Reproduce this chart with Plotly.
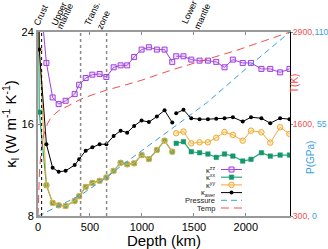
import plotly.graph_objects as go

# ---------------- data ----------------
depth = [3, 12, 81, 141, 199, 266, 353, 396, 459, 523, 593, 658, 728, 795, 858, 925,
         997, 1067, 1144, 1218, 1292, 1311, 1330, 1400, 1475, 1555, 1635, 1715, 1795,
         1875, 1970, 2050, 2150, 2235, 2330, 2420]
k_zz = [40, 28, 21.31, 18.31, 17.73, 18.02, 18.6, 19.41, 20.0, 20.29, 20.35, 20.09, 20.93,
        21.1, 21.1, 21.83, 22.47, 22.67, 22.47, 22.47, 21.4, None, 21.89, 21.89, 21.6,
        21.51, 21.51, 21.4, 20.93, 21.6, 21.31, 21.31, 20.79, 20.79, 20.49, 20.79]
k_xx = [30, 17.03, 10.68, 9.14, 8.93, 8.87, 9.31, 9.72, 10.53, 10.88, 11.06, 11.35, 11.93,
        12.63, 12.49, 12.58, 13.3, 12.95, 13.74, 14.55, 13.59, None, 14.32, 14.46, 13.59,
        13.5, 13.39, 13.1, 13.39, 13.21, 12.78, 12.93, 13.5, 13.21, 13.3, 13.3]
k_yy = [30, 22.4, 10.68, 9.14, 8.93, 8.87, 9.31, 9.72, 10.53, 10.88, 11.06, 11.35, 11.93,
        12.63, 12.49, 12.58, 13.3, 12.95, 13.74, 14.55, 13.59, None, 15.2, 15.34, 14.32,
        14.41, 14.41, 14.8, 15.3, 15.05, 14.55, 15.42, 15.28, 14.38, 15.72, 15.14]
k_aver = [33, 22.47, 14.24, 12.19, 11.84, 11.93, 12.43, 12.93, 13.68, 13.97, 14.24, 14.24,
          14.96, 15.42, 15.25, 15.83, 16.3, 16.17, 16.65, 17.19, 16.12, None, 16.94, 17.23,
          16.49, 16.42, 16.42, 16.45, 16.5, 16.59, 16.21, 16.59, 16.5, 16.07, 16.5, 16.42]

temp_depth = [0, 5, 15, 30, 55, 90, 120, 160, 210, 290, 410, 520, 660, 815, 1000, 1300,
              1630, 1910, 2425]
temp_K = [300, 620, 950, 1220, 1445, 1600, 1680, 1740, 1800, 1855, 1950, 2010, 2080, 2140,
          2220, 2370, 2515, 2640, 2900]

pres_depth = [0, 35, 410, 660, 800, 1000, 1370, 1630, 2000, 2425]
pres_GPa = [0, 1, 12.5, 23, 30, 39, 56, 68, 88, 110]

crust_depth = 35
mantle_bounds = [410, 660]
x_ticks = [0, 500, 1000, 1500, 2000]
k_ticks = [8, 16, 24]
T_ticks = [300, 1600, 2900]
P_ticks = [0, 55, 110]

zone_words = ["Crust", "Upper", "mantle", "Trans.", "zone", "Lower", "mantle"]

legend_names = ["κ<sup>zz</sup>", "κ<sup>xx</sup>", "κ<sup>yy</sup>", "κ<sub>aver</sub>",
                "Pressure", "Temp"]

# ---------------- layout / styles ----------------
zone_pos_px = [(41, 15), (59, 14), (65.5, 16.5), (92, 14), (103, 19.5), (189.5, 12), (202, 17)]

C_ZZ = "#a040e0"
C_XX = "#2aa886"
C_XXM = "#14986a"
C_YY = "#f0aa30"
C_T = "#f05050"
C_P = "#3a9ee0"
FONT = "Liberation Sans, Arial, sans-serif"

fig = go.Figure()

fig.add_trace(go.Scatter(x=temp_depth, y=temp_K, yaxis="y2", mode="lines",
                         line=dict(color=C_T, width=1, dash="8px,5px"), showlegend=False))
fig.add_trace(go.Scatter(x=pres_depth, y=pres_GPa, yaxis="y3", mode="lines",
                         line=dict(color=C_P, width=1, dash="6px,4px"), showlegend=False))

st_zz = dict(mode="lines+markers", line=dict(color=C_ZZ, width=1),
             marker=dict(symbol="square", size=5, color="rgba(200,150,250,0.3)",
                         line=dict(color=C_ZZ, width=1)))
st_xx = dict(mode="lines+markers", line=dict(color=C_XX, width=1.2),
             marker=dict(symbol="square", size=4.5, color=C_XXM, line=dict(color=C_XXM, width=0.5)))
st_yy = dict(mode="lines+markers", line=dict(color=C_YY, width=1),
             marker=dict(symbol="circle", size=5.5, color="rgba(245,205,110,0.35)",
                         line=dict(color=C_YY, width=1)))
st_av = dict(mode="lines+markers", line=dict(color="black", width=1),
             marker=dict(symbol="circle", size=4, color="black"))

fig.add_trace(go.Scatter(x=depth, y=k_zz, showlegend=False, **st_zz))
fig.add_trace(go.Scatter(x=depth, y=k_xx, showlegend=False, **st_xx))
fig.add_trace(go.Scatter(x=depth, y=k_yy, showlegend=False, **st_yy))
fig.add_trace(go.Scatter(x=depth, y=k_aver, showlegend=False, **st_av))

# ---------------- manual legend (text left, symbol right) ----------------
leg_top_px, leg_step_px = 169.5, 7.7
plot_l, plot_t, plot_w, plot_h = 38, 32, 252, 184
leg_styles = [st_zz, st_xx, st_yy, st_av,
              dict(mode="lines", line=dict(color=C_P, width=1, dash="6px,4px")),
              dict(mode="lines", line=dict(color=C_T, width=1, dash="8px,5px"))]


def px_to_paper(px, py):
    return (px - plot_l) / plot_w, (plot_t + plot_h - py) / plot_h


annotations = []
for i, (nm, stl) in enumerate(zip(legend_names, leg_styles)):
    _, fy = px_to_paper(0, leg_top_px + i * leg_step_px)
    x0, _ = px_to_paper(221, 0)
    x1, _ = px_to_paper(242, 0)
    xm = (x0 + x1) / 2
    fig.add_trace(go.Scatter(x=[x0, x1], y=[fy, fy], xaxis="x2", yaxis="y4", mode="lines",
                             line=stl["line"], showlegend=False, hoverinfo="skip"))
    if "marker" in stl:
        fig.add_trace(go.Scatter(x=[xm], y=[fy], xaxis="x2", yaxis="y4", mode="markers",
                                 marker=stl["marker"], showlegend=False, hoverinfo="skip"))
    tx, _ = px_to_paper(217, 0)
    annotations.append(dict(x=tx, y=fy, xref="paper", yref="paper",
                            text=nm, showarrow=False, xanchor="right", yanchor="middle",
                            font=dict(size=7.5, family=FONT, color="#222")))

# ---------------- zone labels ----------------
for w, (px, py) in zip(zone_words, zone_pos_px):
    ax, ay = px_to_paper(px, py)
    annotations.append(dict(x=ax, y=ay, xref="paper", yref="paper",
                            text=w, showarrow=False, textangle=-65,
                            xanchor="center", yanchor="middle",
                            font=dict(size=9, family=FONT, color="black")))

tx, ty = px_to_paper(302, 72)
annotations.append(dict(x=tx, y=ty, xref="paper", yref="paper", text="T(K)", showarrow=False,
                        textangle=-90, font=dict(size=10, family=FONT, color=C_T)))
tx, ty = px_to_paper(318, 176)
annotations.append(dict(x=tx, y=ty, xref="paper", yref="paper", text="P(GPa)", showarrow=False,
                        textangle=-90, font=dict(size=10, family=FONT, color=C_P)))

shapes = [dict(type="line", xref="x", yref="paper", x0=crust_depth, x1=crust_depth, y0=0, y1=1,
               line=dict(color="black", width=1, dash="dot"))]
for b in mantle_bounds:
    shapes.append(dict(type="line", xref="x", yref="paper", x0=b, x1=b, y0=0, y1=1,
                       line=dict(color="#888", width=1.5, dash="dot")))

right_text = [f"{t}, <span style='color:{C_P}'>{p}</span>" if t != 2900 else
              f"{t},<span style='color:{C_P}'>{p}</span>" for t, p in zip(T_ticks, P_ticks)]

fig.update_layout(
    width=328, height=249,
    margin=dict(l=plot_l, r=328 - plot_l - plot_w, t=plot_t, b=249 - plot_t - plot_h),
    paper_bgcolor="white", plot_bgcolor="white",
    font=dict(family=FONT, size=11, color="black"),
    xaxis=dict(range=[0, 2425], tickvals=x_ticks, ticks="inside", ticklen=3,
               tickcolor="#888", showline=True, linecolor="#999", linewidth=2,
               mirror="ticks", showgrid=False, zeroline=False, automargin=False,
               title=dict(text="Depth (km)", font=dict(size=15), standoff=4),
               tickfont=dict(size=11)),
    yaxis=dict(range=[8, 24], tickvals=k_ticks, ticks="inside", ticklen=3, tickcolor="#888",
               showline=True, linecolor="#999", linewidth=2, showgrid=False, zeroline=False,
               automargin=False,
               title=dict(text="κ<sub>l</sub> (W m<sup>-1</sup> K<sup>-1</sup>)",
                          font=dict(size=15), standoff=6),
               tickfont=dict(size=11)),
    yaxis2=dict(overlaying="y", side="right", range=[300, 2900], tickvals=T_ticks,
                ticktext=right_text, tickfont=dict(size=8.7, color=C_T), ticks="outside",
                ticklen=2, tickcolor="#888", showline=True, linecolor="black", linewidth=1,
                ticklabelstandoff=-2, automargin=False,
                showgrid=False, zeroline=False),
    yaxis3=dict(overlaying="y", range=[0, 110], visible=False),
    xaxis2=dict(overlaying="x", range=[0, 1], visible=False),
    yaxis4=dict(overlaying="y", range=[0, 1], visible=False),
    annotations=annotations, shapes=shapes, showlegend=False,
)

# remove the browser's default 8px page margin and hide the mode bar
fig.write_html("out.html", config={"displayModeBar": False},
               post_script="document.body.style.margin='0';")
